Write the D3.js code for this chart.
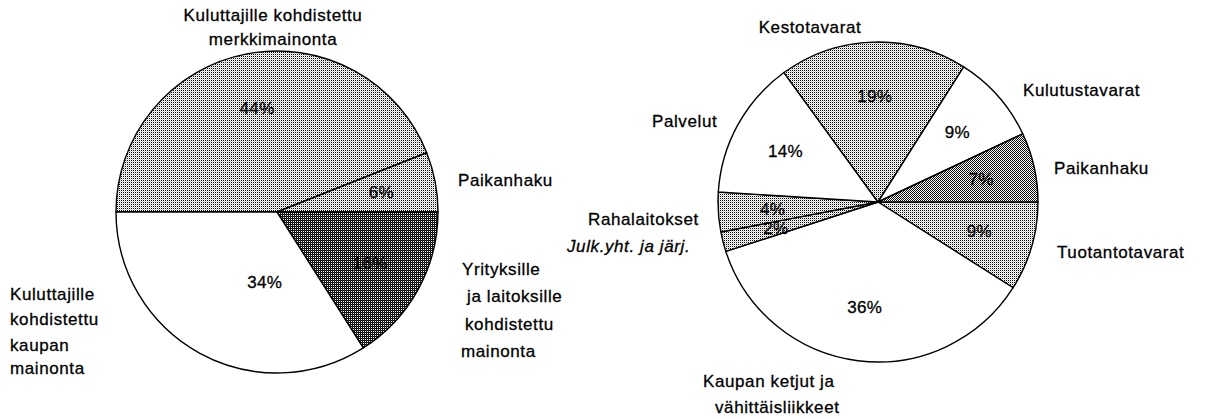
<!DOCTYPE html>
<html>
<head>
<meta charset="utf-8">
<script src="https://cdn.jsdelivr.net/npm/d3@7"></script>
<style>
	body { margin: 0; background: #fff; }
	svg text { font-family: "Liberation Sans", Arial, sans-serif; font-size: 17px; fill: #000; stroke: #000; stroke-width: 0.3px; }
</style>
</head>
<body>
<div id="chart"></div>
<script>
// left pie: advertising by target
var leftCategories = ['merkkimainonta', 'Paikanhaku', 'Yrityksille', 'kaupan mainonta'];
var leftValues = [44, 6, 16, 34];

// right pie: advertising by advertiser sector
var rightCategories = ['Tuotantotavarat', 'Kaupan ketjut', 'Julk.yht.', 'Rahalaitokset',
	'Palvelut', 'Kestotavarat', 'Kulutustavarat', 'Paikanhaku'];
var rightValues = [9, 36, 2, 4, 14, 19, 9, 7];

var leftFill = ['light', 'light', 'dark', 'white'];
var rightFill = ['light', 'white', 'light', 'light', 'white', 'light', 'white', 'medium'];

var svg; // d3.js component

function init(element) {

	svg = d3.select(element)
		.append('svg')
		.attr('width', 1206)
		.attr('height', 419);

	createPatterns();

	var left = createPie({
		cx: 277, cy: 212, r: 161,
		values: leftValues, fills: leftFill,
		start: -Math.PI / 2,
		nudge: { 3: [39, -23] }
	});

	var right = createPie({
		cx: 878, cy: 202, r: 160,
		values: rightValues, fills: rightFill,
		start: Math.PI / 2,
		nudge: {}
	});

	// outer labels, offsets from the pie centre
	addLabel(left, -4, -191, 'Kuluttajille kohdistettu', 'middle');
	addLabel(left, -4, -167, 'merkkimainonta', 'middle');
	addLabel(left, 181, -26, 'Paikanhaku');
	addLabel(left, 185, 63, 'Yrityksille');
	addLabel(left, 190, 90, 'ja laitoksille');
	addLabel(left, 188, 118, 'kohdistettu');
	addLabel(left, 184, 145, 'mainonta');
	addLabel(left, -267, 88, 'Kuluttajille');
	addLabel(left, -267, 113, 'kohdistettu');
	addLabel(left, -267, 139, 'kaupan');
	addLabel(left, -267, 162, 'mainonta');

	addLabel(right, -68, -169, 'Kestotavarat', 'middle');
	addLabel(right, 145, -106, 'Kulutustavarat');
	addLabel(right, 176, -28, 'Paikanhaku');
	addLabel(right, 179, 56, 'Tuotantotavarat');
	addLabel(right, -226, -75, 'Palvelut');
	addLabel(right, -290, 23, 'Rahalaitokset');
	addLabel(right, -311, 50, 'Julk.yht. ja järj.', 'start', true);
	addLabel(right, -175, 185, 'Kaupan ketjut ja');
	addLabel(right, -163, 211, 'vähittäisliikkeet');
}

function createPatterns() {
	var defs = svg.append('defs');

	// dark pixels in a 2x2 cell: [x, y, colour]
	var cells = {
		light: [[0, 0, '#000'], [1, 1, '#cccccc']],
		medium: [[0, 0, '#000'], [1, 1, '#111']],
		dark: [[0, 0, '#000'], [1, 1, '#111'], [1, 0, '#222']]
	};

	Object.keys(cells).forEach(function (name) {
		var p = defs.append('pattern')
			.attr('id', 'pat-' + name)
			.attr('patternUnits', 'userSpaceOnUse')
			.attr('width', 2)
			.attr('height', 2);
		p.append('rect')
			.attr('width', 2)
			.attr('height', 2)
			.attr('fill', '#fff');
		cells[name].forEach(function (c) {
			p.append('rect')
				.attr('x', c[0])
				.attr('y', c[1])
				.attr('width', 1)
				.attr('height', 1)
				.attr('fill', c[2]);
		});
	});
}

function createPie(opt) {
	var g = svg.append('g')
		.attr('transform', 'translate(' + opt.cx + ',' + opt.cy + ')');

	var pie = d3.pie()
		.sort(null)
		.startAngle(opt.start)
		.endAngle(opt.start + 2 * Math.PI);

	var arc = d3.arc().innerRadius(0).outerRadius(opt.r);
	var labelArc = d3.arc().innerRadius(opt.r * 0.66).outerRadius(opt.r * 0.66);

	var arcs = pie(opt.values);

	g.selectAll('path')
		.data(arcs)
		.enter()
		.append('path')
		.attr('d', arc)
		.attr('fill', function (d, i) {
			return opt.fills[i] === 'white' ? '#fff' : 'url(#pat-' + opt.fills[i] + ')';
		})
		.attr('stroke', '#000')
		.attr('stroke-width', 1.4)
		.attr('stroke-linejoin', 'round');

	g.selectAll('text.pct')
		.data(arcs)
		.enter()
		.append('text')
		.attr('class', 'pct')
		.attr('transform', function (d, i) {
			var c = labelArc.centroid(d);
			var n = opt.nudge[i] || [0, 0];
			return 'translate(' + (c[0] + n[0]) + ',' + (c[1] + n[1]) + ')';
		})
		.attr('text-anchor', 'middle')
		.attr('dy', '0.35em')
		.style('letter-spacing', '0.3px')
		.text(function (d) { return d.value + '%'; });

	return g;
}

function addLabel(g, x, y, label, anchor, italic) {
	g.append('text')
		.attr('x', x)
		.attr('y', y)
		.attr('text-anchor', anchor || 'start')
		.style('font-style', italic ? 'italic' : null)
		.style('letter-spacing', '0.6px')
		.text(label);
}

init('#chart');
</script>
</body>
</html>
